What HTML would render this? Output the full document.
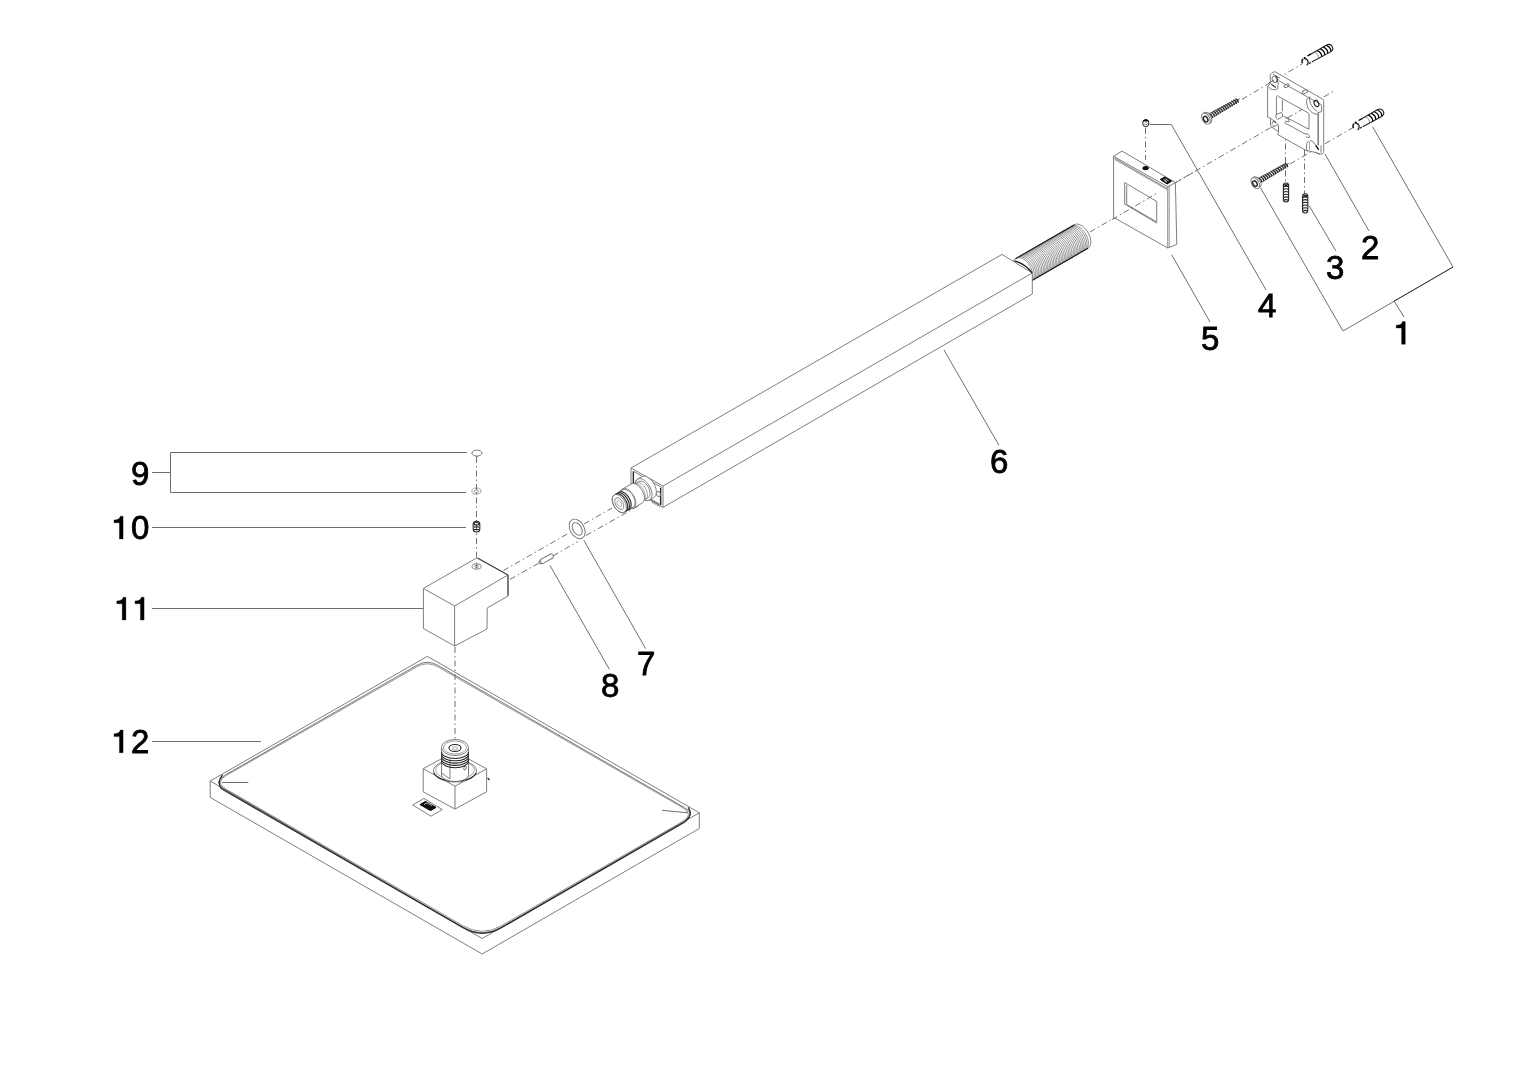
<!DOCTYPE html>
<html><head><meta charset="utf-8"><style>
html,body{margin:0;padding:0;background:#fff;}
svg{display:block;will-change:transform;}
text{opacity:0.999;}
text{font-family:"Liberation Sans",sans-serif;font-size:33px;fill:#000;stroke:#000;stroke-width:0.8px;}
.g1{fill:#000;stroke:#000;stroke-width:0.3;}
.l{fill:none;stroke:#6e6e6e;stroke-width:1;}
.p{fill:none;stroke:#777;stroke-width:0.95;}
.pw{fill:#fff;stroke:#777;stroke-width:0.95;}
.pd{fill:none;stroke:#222;stroke-width:1.1;}
.pk{fill:#111;stroke:#000;stroke-width:1;}
.sh1{fill:none;stroke:#555;stroke-width:0.8;}
.sh2{fill:none;stroke:#666;stroke-width:0.7;}
.sh3{fill:none;stroke:#2a2a2a;stroke-width:1.3;}
.wl{fill:none;stroke:#fff;stroke-width:0.7;}
.pg{fill:none;stroke:#777;stroke-width:1.4;}
.th{fill:none;stroke:#3a3a3a;stroke-width:0.55;}
.t{fill:none;stroke:#666;stroke-width:0.6;}
.dd{fill:none;stroke:#707070;stroke-width:1;stroke-dasharray:6 3 1.5 3;}
</style></head><body>
<svg width="1527" height="1080" viewBox="0 0 1527 1080">
<text x="1361" y="259">2</text>
<text x="1326" y="279">3</text>
<text x="1258" y="317">4</text>
<text x="1201" y="350">5</text>
<text x="990" y="473">6</text>
<text x="637" y="675">7</text>
<text x="601" y="697">8</text>
<text x="131" y="485">9</text>
<text x="131" y="539">0</text>
<text x="131" y="752.5">2</text>
<path class="g1" transform="translate(1396.2,344.3)" d="M5.4,0 H9.1 V-22.8 H6.3 C5.8,-20.2 3.8,-19.3 0,-19.1 V-16.2 H5.4 Z"/>
<path class="g1" transform="translate(114,539)" d="M5.4,0 H9.1 V-22.8 H6.3 C5.8,-20.2 3.8,-19.3 0,-19.1 V-16.2 H5.4 Z"/>
<path class="g1" transform="translate(116.8,620)" d="M5.4,0 H9.1 V-22.8 H6.3 C5.8,-20.2 3.8,-19.3 0,-19.1 V-16.2 H5.4 Z"/>
<path class="g1" transform="translate(135,620)" d="M5.4,0 H9.1 V-22.8 H6.3 C5.8,-20.2 3.8,-19.3 0,-19.1 V-16.2 H5.4 Z"/>
<path class="g1" transform="translate(114,752.8)" d="M5.4,0 H9.1 V-22.8 H6.3 C5.8,-20.2 3.8,-19.3 0,-19.1 V-16.2 H5.4 Z"/>
<path class="l" d="M1260.6,188 L1343,331 L1453,267 L1372.6,126.7" />
<path class="l" d="M1394,301 L1404,317"/>
<path d="M1394,301.2 L1453,267" style="fill:none;stroke:#333;stroke-width:0.9"/>
<path class="l" d="M1325,154 L1369,231"/>
<path class="l" d="M1309,205.5 L1335.8,250.8"/>
<path class="l" d="M1149.7,124.5 L1171.3,124.5 L1266,290" />
<path class="l" d="M1171.7,254.8 L1210,322"/>
<path class="l" d="M944,350 L998.9,445.2"/>
<path class="l" d="M583.8,540.3 L645.6,648.6"/>
<path class="l" d="M550,565.5 L609.5,669.5"/>
<path class="l" d="M467,452.5 L170.5,452.5 L170.5,492.5 L466,492.5" />
<path class="l" d="M152,472.5 L170.5,472.5"/>
<path class="l" d="M152,527.5 L466,527.5"/>
<path class="l" d="M152,608.5 L423.4,608.5"/>
<path class="l" d="M152,741.5 L261,741.5"/>
<path class="dd" d="M476.5,457 L476.5,558"/>
<path class="dd" d="M503.3,570.6 L569,533"/>
<path class="dd" d="M584,524 L612,508"/>
<path class="dd" d="M510,579.4 L539,563"/>
<path class="dd" d="M553,556 L578,541.5"/>
<path class="dd" d="M586,535.5 L640,505"/>
<path class="dd" d="M1090,232 L1334,91"/>
<path class="dd" d="M1242,99.4 L1302,64"/>
<path class="dd" d="M1290,164 L1354,127"/>
<path class="dd" d="M1285.5,130 L1285.5,183"/>
<path class="dd" d="M1304.5,150 L1304.5,194"/>
<path class="dd" d="M1145.5,128 L1145.5,160"/>
<path class="pw" d="M423.4,588.4 L477,557.8 L508,575 L508,596 L487.2,608 L487,629 L454.6,646 L423.4,628.5 Z" />
<path class="p" d="M423.4,588.4 L454.6,606 L508,575" />
<path d="M477.5,558 L508,575 L508,595.5" style="fill:none;stroke:#444;stroke-width:1.1"/>
<path class="p" d="M454.6,606 L454.6,646"/>
<ellipse class="p" cx="476.6" cy="566.5" rx="4.6" ry="2.6"/>
<ellipse class="p" cx="476.6" cy="566.3" rx="1.8" ry="1.1"/>
<path class="t" d="M476.5,562 L476.5,569"/>
<ellipse class="p" cx="476.9" cy="453.1" rx="5" ry="3"/>
<path class="p" d="M475.6,456 Q476.9,458.5 478.2,456"/>
<ellipse class="t" cx="476.4" cy="491" rx="4.5" ry="3"/>
<ellipse class="t" cx="476.4" cy="491.3" rx="2.2" ry="1.3"/>
<rect class="pd" x="473.2" y="521.2" width="6.6" height="10.8" rx="3"/>
<ellipse class="pd" cx="476.5" cy="523.8" rx="2.4" ry="1.3"/>
<path class="pd" d="M474,527 L479,527"/>
<path class="pd" d="M474,529.5 L479,529.5"/>
<g transform="translate(539.4,562.8) rotate(-29)"><path class="pw" d="M0,-1 L2.5,-2.3 L14,-2.3 A1.5,2.3 0 0,1 14,2.3 L2.5,2.3 L0,1 Z"/><path class="p" d="M2.5,-2.3 A1,2.3 0 0,0 2.5,2.3"/></g>
<ellipse class="p" cx="577.2" cy="528.9" rx="10.5" ry="7" transform="rotate(60 577.2 528.9)"/>
<ellipse class="p" cx="577.2" cy="528.9" rx="6.8" ry="4.3" transform="rotate(60 577.2 528.9)"/>
<path class="pw" d="M1087.96,248.28 L1088.79,247.66 L1089.49,246.85 L1090.06,245.87 L1090.47,244.72 L1090.72,243.44 L1090.8,242.03 L1090.72,240.54 L1090.48,238.97 L1090.08,237.36 L1089.52,235.73 L1088.83,234.12 L1088,232.55 L1087.05,231.05 L1086,229.64 L1084.87,228.34 L1083.68,227.19 L1082.44,226.2 L1081.19,225.38 L1079.93,224.75 L1078.69,224.33 L1077.49,224.11 L1076.36,224.1 L1075.31,224.31 L1074.36,224.72 L1015.47,258.72 L1014.63,259.34 L1013.93,260.15 L1013.37,261.13 L1012.96,262.28 L1012.71,263.56 L1012.62,264.97 L1012.7,266.46 L1012.94,268.03 L1013.35,269.64 L1013.9,271.27 L1014.6,272.88 L1015.43,274.45 L1016.37,275.95 L1017.42,277.36 L1018.55,278.66 L1019.74,279.81 L1020.98,280.8 L1022.24,281.62 L1023.5,282.25 L1024.74,282.67 L1025.93,282.89 L1027.07,282.9 L1028.12,282.69 L1029.07,282.28 Z" />
<path class="th" d="M1029.93,281.78 L1031.14,280.78 L1032.03,279.37 L1032.59,277.6 L1032.78,275.53 L1032.6,273.26 L1032.06,270.86 L1031.17,268.42 L1029.98,266.05 L1028.52,263.83 L1026.85,261.84 L1025.04,260.17 L1023.16,258.88 L1021.28,258.01 L1019.47,257.61 L1017.8,257.68 L1016.33,258.22" />
<path class="th" d="M1031.44,280.91 L1032.64,279.91 L1033.54,278.5 L1034.09,276.73 L1034.28,274.67 L1034.1,272.39 L1033.56,269.99 L1032.67,267.56 L1031.48,265.18 L1030.02,262.96 L1028.36,260.98 L1026.55,259.3 L1024.67,258.01 L1022.78,257.14 L1020.97,256.74 L1019.3,256.81 L1017.84,257.35" />
<path class="th" d="M1032.94,280.04 L1034.15,279.04 L1035.04,277.63 L1035.6,275.86 L1035.79,273.8 L1035.61,271.52 L1035.07,269.12 L1034.18,266.69 L1032.98,264.31 L1031.53,262.09 L1029.86,260.11 L1028.05,258.44 L1026.17,257.14 L1024.29,256.28 L1022.48,255.87 L1020.81,255.94 L1019.34,256.49" />
<path class="th" d="M1034.45,279.17 L1035.65,278.18 L1036.55,276.76 L1037.1,274.99 L1037.29,272.93 L1037.11,270.65 L1036.57,268.25 L1035.68,265.82 L1034.49,263.44 L1033.03,261.22 L1031.36,259.24 L1029.56,257.57 L1027.68,256.27 L1025.79,255.41 L1023.98,255 L1022.31,255.07 L1020.85,255.62" />
<path class="th" d="M1035.95,278.3 L1037.15,277.31 L1038.05,275.9 L1038.61,274.12 L1038.8,272.06 L1038.62,269.79 L1038.07,267.38 L1037.19,264.95 L1035.99,262.58 L1034.53,260.35 L1032.87,258.37 L1031.06,256.7 L1029.18,255.41 L1027.3,254.54 L1025.49,254.13 L1023.82,254.2 L1022.35,254.75" />
<path class="th" d="M1037.45,277.44 L1038.66,276.44 L1039.55,275.03 L1040.11,273.26 L1040.3,271.19 L1040.12,268.92 L1039.58,266.52 L1038.69,264.08 L1037.5,261.71 L1036.04,259.49 L1034.37,257.5 L1032.57,255.83 L1030.68,254.54 L1028.8,253.67 L1026.99,253.27 L1025.32,253.34 L1023.85,253.88" />
<path class="th" d="M1038.96,276.57 L1040.16,275.57 L1041.06,274.16 L1041.61,272.39 L1041.8,270.32 L1041.62,268.05 L1041.08,265.65 L1040.2,263.21 L1039,260.84 L1037.54,258.62 L1035.88,256.63 L1034.07,254.96 L1032.19,253.67 L1030.31,252.8 L1028.49,252.4 L1026.82,252.47 L1025.36,253.01" />
<path class="th" d="M1040.46,275.7 L1041.67,274.7 L1042.56,273.29 L1043.12,271.52 L1043.31,269.46 L1043.13,267.18 L1042.59,264.78 L1041.7,262.34 L1040.5,259.97 L1039.05,257.75 L1037.38,255.76 L1035.57,254.09 L1033.69,252.8 L1031.81,251.93 L1030,251.53 L1028.33,251.6 L1026.86,252.14" />
<path class="th" d="M1041.97,274.83 L1043.17,273.83 L1044.07,272.42 L1044.62,270.65 L1044.81,268.59 L1044.63,266.31 L1044.09,263.91 L1043.2,261.48 L1042.01,259.1 L1040.55,256.88 L1038.89,254.9 L1037.08,253.23 L1035.2,251.93 L1033.31,251.07 L1031.5,250.66 L1029.83,250.73 L1028.37,251.28" />
<path class="th" d="M1043.47,273.96 L1044.67,272.96 L1045.57,271.55 L1046.13,269.78 L1046.32,267.72 L1046.14,265.44 L1045.59,263.04 L1044.71,260.61 L1043.51,258.23 L1042.05,256.01 L1040.39,254.03 L1038.58,252.36 L1036.7,251.06 L1034.82,250.2 L1033.01,249.79 L1031.34,249.86 L1029.87,250.41" />
<path class="th" d="M1044.98,273.09 L1046.18,272.1 L1047.08,270.69 L1047.63,268.91 L1047.82,266.85 L1047.64,264.57 L1047.1,262.17 L1046.21,259.74 L1045.02,257.37 L1043.56,255.14 L1041.89,253.16 L1040.09,251.49 L1038.2,250.19 L1036.32,249.33 L1034.51,248.92 L1032.84,248.99 L1031.38,249.54" />
<path class="th" d="M1046.48,272.22 L1047.68,271.23 L1048.58,269.82 L1049.13,268.05 L1049.33,265.98 L1049.15,263.71 L1048.6,261.31 L1047.72,258.87 L1046.52,256.5 L1045.06,254.28 L1043.4,252.29 L1041.59,250.62 L1039.71,249.33 L1037.83,248.46 L1036.01,248.05 L1034.34,248.13 L1032.88,248.67" />
<path class="th" d="M1047.98,271.36 L1049.19,270.36 L1050.08,268.95 L1050.64,267.18 L1050.83,265.11 L1050.65,262.84 L1050.11,260.44 L1049.22,258 L1048.02,255.63 L1046.57,253.41 L1044.9,251.42 L1043.09,249.75 L1041.21,248.46 L1039.33,247.59 L1037.52,247.19 L1035.85,247.26 L1034.38,247.8" />
<path class="th" d="M1049.49,270.49 L1050.69,269.49 L1051.59,268.08 L1052.14,266.31 L1052.33,264.25 L1052.15,261.97 L1051.61,259.57 L1050.72,257.13 L1049.53,254.76 L1048.07,252.54 L1046.41,250.55 L1044.6,248.88 L1042.72,247.59 L1040.83,246.72 L1039.02,246.32 L1037.35,246.39 L1035.89,246.93" />
<path class="th" d="M1050.99,269.62 L1052.2,268.62 L1053.09,267.21 L1053.65,265.44 L1053.84,263.38 L1053.66,261.1 L1053.11,258.7 L1052.23,256.27 L1051.03,253.89 L1049.57,251.67 L1047.91,249.69 L1046.1,248.01 L1044.22,246.72 L1042.34,245.85 L1040.53,245.45 L1038.86,245.52 L1037.39,246.06" />
<path class="th" d="M1052.5,268.75 L1053.7,267.75 L1054.6,266.34 L1055.15,264.57 L1055.34,262.51 L1055.16,260.23 L1054.62,257.83 L1053.73,255.4 L1052.54,253.02 L1051.08,250.8 L1049.41,248.82 L1047.61,247.15 L1045.72,245.85 L1043.84,244.99 L1042.03,244.58 L1040.36,244.65 L1038.9,245.2" />
<path class="th" d="M1054,267.88 L1055.2,266.89 L1056.1,265.47 L1056.65,263.7 L1056.85,261.64 L1056.67,259.36 L1056.12,256.96 L1055.24,254.53 L1054.04,252.16 L1052.58,249.93 L1050.92,247.95 L1049.11,246.28 L1047.23,244.98 L1045.35,244.12 L1043.54,243.71 L1041.87,243.78 L1040.4,244.33" />
<path class="th" d="M1055.5,267.01 L1056.71,266.02 L1057.6,264.61 L1058.16,262.84 L1058.35,260.77 L1058.17,258.5 L1057.63,256.09 L1056.74,253.66 L1055.55,251.29 L1054.09,249.07 L1052.42,247.08 L1050.61,245.41 L1048.73,244.12 L1046.85,243.25 L1045.04,242.84 L1043.37,242.91 L1041.9,243.46" />
<path class="th" d="M1057.01,266.15 L1058.21,265.15 L1059.11,263.74 L1059.66,261.97 L1059.85,259.9 L1059.67,257.63 L1059.13,255.23 L1058.24,252.79 L1057.05,250.42 L1055.59,248.2 L1053.93,246.21 L1052.12,244.54 L1050.24,243.25 L1048.35,242.38 L1046.54,241.98 L1044.87,242.05 L1043.41,242.59" />
<path class="th" d="M1058.51,265.28 L1059.72,264.28 L1060.61,262.87 L1061.17,261.1 L1061.36,259.03 L1061.18,256.76 L1060.63,254.36 L1059.75,251.92 L1058.55,249.55 L1057.1,247.33 L1055.43,245.34 L1053.62,243.67 L1051.74,242.38 L1049.86,241.51 L1048.05,241.11 L1046.38,241.18 L1044.91,241.72" />
<path class="th" d="M1060.02,264.41 L1061.22,263.41 L1062.12,262 L1062.67,260.23 L1062.86,258.17 L1062.68,255.89 L1062.14,253.49 L1061.25,251.06 L1060.06,248.68 L1058.6,246.46 L1056.93,244.48 L1055.13,242.8 L1053.25,241.51 L1051.36,240.64 L1049.55,240.24 L1047.88,240.31 L1046.42,240.85" />
<path class="th" d="M1061.52,263.54 L1062.72,262.54 L1063.62,261.13 L1064.18,259.36 L1064.37,257.3 L1064.19,255.02 L1063.64,252.62 L1062.76,250.19 L1061.56,247.81 L1060.1,245.59 L1058.44,243.61 L1056.63,241.94 L1054.75,240.64 L1052.87,239.78 L1051.06,239.37 L1049.39,239.44 L1047.92,239.99" />
<path class="th" d="M1063.02,262.67 L1064.23,261.68 L1065.12,260.26 L1065.68,258.49 L1065.87,256.43 L1065.69,254.15 L1065.15,251.75 L1064.26,249.32 L1063.07,246.94 L1061.61,244.72 L1059.94,242.74 L1058.13,241.07 L1056.25,239.77 L1054.37,238.91 L1052.56,238.5 L1050.89,238.57 L1049.42,239.12" />
<path class="th" d="M1064.53,261.8 L1065.73,260.81 L1066.63,259.4 L1067.18,257.62 L1067.37,255.56 L1067.19,253.29 L1066.65,250.88 L1065.76,248.45 L1064.57,246.08 L1063.11,243.85 L1061.45,241.87 L1059.64,240.2 L1057.76,238.91 L1055.88,238.04 L1054.06,237.63 L1052.39,237.7 L1050.93,238.25" />
<path class="th" d="M1066.03,260.94 L1067.24,259.94 L1068.13,258.53 L1068.69,256.76 L1068.88,254.69 L1068.7,252.42 L1068.16,250.02 L1067.27,247.58 L1066.07,245.21 L1064.62,242.99 L1062.95,241 L1061.14,239.33 L1059.26,238.04 L1057.38,237.17 L1055.57,236.77 L1053.9,236.84 L1052.43,237.38" />
<path class="th" d="M1067.54,260.07 L1068.74,259.07 L1069.64,257.66 L1070.19,255.89 L1070.38,253.82 L1070.2,251.55 L1069.66,249.15 L1068.77,246.71 L1067.58,244.34 L1066.12,242.12 L1064.46,240.13 L1062.65,238.46 L1060.77,237.17 L1058.88,236.3 L1057.07,235.9 L1055.4,235.97 L1053.94,236.51" />
<path class="th" d="M1069.04,259.2 L1070.24,258.2 L1071.14,256.79 L1071.7,255.02 L1071.89,252.96 L1071.71,250.68 L1071.16,248.28 L1070.28,245.84 L1069.08,243.47 L1067.62,241.25 L1065.96,239.26 L1064.15,237.59 L1062.27,236.3 L1060.39,235.43 L1058.58,235.03 L1056.91,235.1 L1055.44,235.64" />
<path class="th" d="M1070.54,258.33 L1071.75,257.33 L1072.65,255.92 L1073.2,254.15 L1073.39,252.09 L1073.21,249.81 L1072.67,247.41 L1071.78,244.98 L1070.59,242.6 L1069.13,240.38 L1067.46,238.4 L1065.66,236.73 L1063.77,235.43 L1061.89,234.57 L1060.08,234.16 L1058.41,234.23 L1056.94,234.78" />
<path class="th" d="M1072.05,257.46 L1073.25,256.46 L1074.15,255.05 L1074.7,253.28 L1074.89,251.22 L1074.72,248.94 L1074.17,246.54 L1073.29,244.11 L1072.09,241.73 L1070.63,239.51 L1068.97,237.53 L1067.16,235.86 L1065.28,234.56 L1063.4,233.7 L1061.58,233.29 L1059.91,233.36 L1058.45,233.91" />
<path class="th" d="M1073.55,256.59 L1074.76,255.6 L1075.65,254.19 L1076.21,252.41 L1076.4,250.35 L1076.22,248.07 L1075.68,245.67 L1074.79,243.24 L1073.59,240.87 L1072.14,238.64 L1070.47,236.66 L1068.66,234.99 L1066.78,233.69 L1064.9,232.83 L1063.09,232.42 L1061.42,232.49 L1059.95,233.04" />
<path class="th" d="M1075.06,255.72 L1076.26,254.73 L1077.16,253.32 L1077.71,251.55 L1077.9,249.48 L1077.72,247.21 L1077.18,244.81 L1076.29,242.37 L1075.1,240 L1073.64,237.78 L1071.98,235.79 L1070.17,234.12 L1068.29,232.83 L1066.4,231.96 L1064.59,231.55 L1062.92,231.63 L1061.46,232.17" />
<path class="th" d="M1076.56,254.86 L1077.77,253.86 L1078.66,252.45 L1079.22,250.68 L1079.41,248.61 L1079.23,246.34 L1078.68,243.94 L1077.8,241.5 L1076.6,239.13 L1075.14,236.91 L1073.48,234.92 L1071.67,233.25 L1069.79,231.96 L1067.91,231.09 L1066.1,230.69 L1064.43,230.76 L1062.96,231.3" />
<path class="th" d="M1078.07,253.99 L1079.27,252.99 L1080.17,251.58 L1080.72,249.81 L1080.91,247.75 L1080.73,245.47 L1080.19,243.07 L1079.3,240.63 L1078.11,238.26 L1076.65,236.04 L1074.98,234.05 L1073.18,232.38 L1071.29,231.09 L1069.41,230.22 L1067.6,229.82 L1065.93,229.89 L1064.47,230.43" />
<path class="th" d="M1079.57,253.12 L1080.77,252.12 L1081.67,250.71 L1082.22,248.94 L1082.42,246.88 L1082.24,244.6 L1081.69,242.2 L1080.81,239.77 L1079.61,237.39 L1078.15,235.17 L1076.49,233.19 L1074.68,231.51 L1072.8,230.22 L1070.92,229.35 L1069.11,228.95 L1067.43,229.02 L1065.97,229.56" />
<path class="th" d="M1081.07,252.25 L1082.28,251.25 L1083.17,249.84 L1083.73,248.07 L1083.92,246.01 L1083.74,243.73 L1083.2,241.33 L1082.31,238.9 L1081.11,236.52 L1079.66,234.3 L1077.99,232.32 L1076.18,230.65 L1074.3,229.35 L1072.42,228.49 L1070.61,228.08 L1068.94,228.15 L1067.47,228.7" />
<path class="th" d="M1082.58,251.38 L1083.78,250.39 L1084.68,248.97 L1085.23,247.2 L1085.42,245.14 L1085.24,242.86 L1084.7,240.46 L1083.81,238.03 L1082.62,235.66 L1081.16,233.43 L1079.5,231.45 L1077.69,229.78 L1075.81,228.48 L1073.92,227.62 L1072.11,227.21 L1070.44,227.28 L1068.98,227.83" />
<path class="th" d="M1084.08,250.51 L1085.29,249.52 L1086.18,248.11 L1086.74,246.34 L1086.93,244.27 L1086.75,242 L1086.2,239.59 L1085.32,237.16 L1084.12,234.79 L1082.67,232.57 L1081,230.58 L1079.19,228.91 L1077.31,227.62 L1075.43,226.75 L1073.62,226.34 L1071.95,226.41 L1070.48,226.96" />
<path class="th" d="M1085.59,249.65 L1086.79,248.65 L1087.69,247.24 L1088.24,245.47 L1088.43,243.4 L1088.25,241.13 L1087.71,238.73 L1086.82,236.29 L1085.63,233.92 L1084.17,231.7 L1082.5,229.71 L1080.7,228.04 L1078.82,226.75 L1076.93,225.88 L1075.12,225.48 L1073.45,225.55 L1071.99,226.09" />
<path class="pd" d="M1029.07,282.28 L1087.96,248.28"/>
<path class="pd" d="M1015.47,258.72 L1074.36,224.72"/>
<path class="pw" d="M631,468 L1002,254.4 L1032.3,273 L1032.3,294 L663,507.4 L631,489 Z" />
<path class="p" d="M631,468 L663,486 L1032.3,273" />
<path class="p" d="M663,486 L663,507.4"/>
<path class="pd" d="M1014.5,260.8 Q1026,264.5 1032,272.8" style="stroke-width:1.4"/>
<path class="p" d="M633,471 L661,487 L661,505 L633,489 Z" />
<path class="pd" d="M633.5,472 L633.5,489"/>
<path class="pd" d="M660.5,488 L660.5,505"/>
<ellipse class="p" cx="658.5" cy="494" rx="2" ry="2.6" transform="rotate(-30 658.5 494)"/>
<path class="t" d="M651,499 L653,503.5"/>
<path class="t" d="M652.6,499.9 L654.6,504.4"/>
<path class="t" d="M654.2,500.8 L656.2,505.3"/>
<path class="t" d="M655.8,501.7 L657.8,506.2"/>
<path class="t" d="M657.4,502.6 L659.4,507.1"/>
<path class="pw" d="M637.54,479.21 L636.8,479.75 L636.19,480.46 L635.7,481.32 L635.34,482.33 L635.13,483.46 L635.05,484.7 L635.13,486.02 L635.34,487.4 L635.7,488.82 L636.19,490.25 L636.81,491.68 L637.54,493.06 L638.37,494.39 L639.3,495.63 L640.29,496.78 L641.34,497.79 L642.43,498.67 L643.54,499.4 L644.65,499.95 L645.73,500.33 L646.78,500.53 L647.78,500.53 L648.7,500.35 L649.54,499.99 L653.87,497.49 L654.6,496.95 L655.21,496.24 L655.7,495.38 L656.06,494.37 L656.28,493.24 L656.35,492 L656.28,490.68 L656.06,489.3 L655.7,487.88 L655.21,486.45 L654.59,485.02 L653.86,483.64 L653.03,482.31 L652.1,481.07 L651.11,479.92 L650.06,478.91 L648.97,478.03 L647.86,477.3 L646.76,476.75 L645.67,476.37 L644.62,476.17 L643.62,476.17 L642.7,476.35 L641.87,476.71 Z" />
<path class="p" d="M637.54,479.21 L636.59,479.97 L635.85,481.02 L635.34,482.33 L635.09,483.86 L635.09,485.57 L635.34,487.4 L635.85,489.3 L636.59,491.2 L637.54,493.06 L638.67,494.81 L639.95,496.41 L641.34,497.79 L642.8,498.93 L644.28,499.79 L645.73,500.33 L647.12,500.55 L648.4,500.44 L649.54,499.99 L650.49,499.23 L651.22,498.18 L651.73,496.87 L651.99,495.34 L651.99,493.63 L651.73,491.8 L651.22,489.9 L650.48,488 L649.53,486.14 L648.4,484.39 L647.12,482.79 L645.73,481.41 L644.27,480.27 L642.79,479.41 L641.34,478.87 L639.95,478.65 L638.67,478.76 L637.54,479.21 Z" />
<path class="pw" d="M632.01,485.63 L631.45,486.05 L630.97,486.59 L630.6,487.25 L630.33,488.03 L630.16,488.89 L630.1,489.84 L630.16,490.86 L630.33,491.92 L630.6,493 L630.98,494.1 L631.45,495.19 L632.01,496.25 L632.65,497.27 L633.36,498.23 L634.12,499.1 L634.93,499.88 L635.76,500.56 L636.61,501.11 L637.46,501.54 L638.29,501.83 L639.1,501.98 L639.86,501.98 L640.57,501.85 L641.21,501.57 L648.14,497.57 L648.7,497.15 L649.17,496.61 L649.55,495.95 L649.82,495.17 L649.98,494.31 L650.04,493.36 L649.98,492.34 L649.82,491.28 L649.54,490.2 L649.17,489.1 L648.69,488.01 L648.13,486.95 L647.49,485.93 L646.79,484.97 L646.02,484.1 L645.22,483.32 L644.38,482.64 L643.53,482.09 L642.69,481.66 L641.85,481.37 L641.05,481.22 L640.28,481.22 L639.58,481.35 L638.94,481.63 Z" />
<path class="p" d="M632.01,485.63 L631.28,486.21 L630.71,487.02 L630.33,488.03 L630.13,489.2 L630.13,490.51 L630.33,491.92 L630.71,493.37 L631.28,494.83 L632.01,496.25 L632.88,497.6 L633.86,498.82 L634.93,499.88 L636.04,500.75 L637.18,501.41 L638.29,501.83 L639.36,501.99 L640.34,501.91 L641.21,501.57 L641.94,500.99 L642.5,500.18 L642.89,499.17 L643.09,498 L643.09,496.69 L642.89,495.28 L642.5,493.83 L641.93,492.37 L641.21,490.95 L640.34,489.6 L639.35,488.38 L638.29,487.32 L637.17,486.45 L636.04,485.79 L634.92,485.37 L633.86,485.21 L632.88,485.29 L632.01,485.63 Z" />
<path class="t" d="M645.56,499.11 L646.38,498.44 L646.98,497.48 L647.35,496.28 L647.48,494.88 L647.35,493.33 L646.98,491.7 L646.37,490.05 L645.56,488.43 L644.57,486.92 L643.44,485.57 L642.21,484.43 L640.94,483.55 L639.66,482.96 L638.43,482.68 L637.3,482.72 L636.31,483.09" />
<path class="t" d="M643.4,500.36 L644.21,499.69 L644.81,498.73 L645.19,497.53 L645.31,496.13 L645.19,494.58 L644.81,492.95 L644.21,491.3 L643.4,489.68 L642.4,488.17 L641.27,486.82 L640.05,485.68 L638.77,484.8 L637.5,484.21 L636.27,483.93 L635.14,483.97 L634.15,484.34" />
<path class="pw" d="M622.45,489.07 L621.78,489.57 L621.21,490.22 L620.76,491.01 L620.44,491.94 L620.24,492.97 L620.17,494.11 L620.24,495.32 L620.44,496.59 L620.77,497.89 L621.22,499.2 L621.78,500.5 L622.45,501.77 L623.22,502.99 L624.06,504.13 L624.97,505.18 L625.94,506.11 L626.94,506.92 L627.95,507.58 L628.97,508.09 L629.96,508.44 L630.93,508.62 L631.84,508.62 L632.68,508.46 L633.45,508.13 L642.11,503.13 L642.78,502.63 L643.34,501.98 L643.79,501.19 L644.12,500.26 L644.32,499.23 L644.38,498.09 L644.32,496.88 L644.12,495.61 L643.79,494.31 L643.34,493 L642.78,491.7 L642.1,490.43 L641.34,489.21 L640.49,488.07 L639.58,487.02 L638.62,486.09 L637.62,485.28 L636.61,484.62 L635.59,484.11 L634.59,483.76 L633.63,483.58 L632.72,483.58 L631.87,483.74 L631.11,484.07 Z" />
<path class="p" d="M622.45,489.07 L621.58,489.77 L620.9,490.73 L620.44,491.94 L620.2,493.34 L620.2,494.91 L620.44,496.59 L620.9,498.32 L621.58,500.07 L622.45,501.77 L623.49,503.38 L624.66,504.84 L625.94,506.11 L627.27,507.15 L628.63,507.94 L629.96,508.44 L631.24,508.64 L632.41,508.53 L633.45,508.13 L634.32,507.43 L635,506.47 L635.46,505.26 L635.69,503.86 L635.69,502.29 L635.46,500.61 L634.99,498.88 L634.32,497.13 L633.44,495.43 L632.41,493.82 L631.23,492.36 L629.96,491.09 L628.62,490.05 L627.27,489.26 L625.93,488.76 L624.66,488.56 L623.49,488.67 L622.45,489.07 Z" />
<path class="pw" d="M614.29,494.94 L613.68,495.39 L613.17,495.98 L612.76,496.7 L612.46,497.54 L612.28,498.49 L612.22,499.52 L612.28,500.62 L612.46,501.77 L612.76,502.95 L613.17,504.15 L613.68,505.33 L614.29,506.49 L614.99,507.59 L615.76,508.63 L616.58,509.58 L617.46,510.43 L618.37,511.16 L619.29,511.76 L620.21,512.23 L621.12,512.54 L622,512.7 L622.82,512.71 L623.59,512.56 L624.29,512.26 L632.95,507.26 L633.56,506.81 L634.07,506.22 L634.48,505.5 L634.78,504.66 L634.96,503.71 L635.02,502.68 L634.96,501.58 L634.78,500.43 L634.48,499.25 L634.07,498.05 L633.55,496.87 L632.94,495.72 L632.25,494.61 L631.48,493.57 L630.65,492.62 L629.78,491.77 L628.87,491.04 L627.95,490.44 L627.02,489.97 L626.12,489.66 L625.24,489.5 L624.41,489.49 L623.64,489.64 L622.95,489.94 Z" />
<path class="p" d="M614.29,494.94 L613.5,495.57 L612.88,496.45 L612.46,497.54 L612.25,498.82 L612.25,500.24 L612.46,501.77 L612.88,503.35 L613.5,504.94 L614.29,506.49 L615.24,507.94 L616.3,509.27 L617.46,510.43 L618.67,511.38 L619.91,512.09 L621.12,512.54 L622.28,512.72 L623.34,512.63 L624.29,512.26 L625.08,511.63 L625.7,510.75 L626.12,509.66 L626.33,508.38 L626.33,506.96 L626.12,505.43 L625.69,503.85 L625.08,502.26 L624.28,500.72 L623.34,499.26 L622.27,497.93 L621.12,496.77 L619.9,495.82 L618.67,495.11 L617.46,494.66 L616.3,494.48 L615.23,494.57 L614.29,494.94 Z" />
<path class="pd" d="M629.08,509.55 L629.96,508.82 L630.62,507.78 L631.02,506.48 L631.16,504.95 L631.02,503.27 L630.61,501.5 L629.96,499.7 L629.07,497.95 L628,496.31 L626.77,494.84 L625.43,493.6 L624.05,492.65 L622.66,492 L621.33,491.7 L620.1,491.75 L619.03,492.15" />
<path class="pd" d="M627.34,510.55 L628.23,509.82 L628.88,508.78 L629.29,507.48 L629.42,505.95 L629.29,504.27 L628.88,502.5 L628.22,500.7 L627.34,498.95 L626.26,497.31 L625.04,495.84 L623.7,494.6 L622.32,493.65 L620.93,493 L619.6,492.7 L618.37,492.75 L617.29,493.15" />
<path class="pd" d="M625.61,511.55 L626.5,510.82 L627.15,509.78 L627.56,508.48 L627.69,506.95 L627.55,505.27 L627.15,503.5 L626.49,501.7 L625.61,499.95 L624.53,498.31 L623.3,496.84 L621.97,495.6 L620.58,494.65 L619.2,494 L617.87,493.7 L616.64,493.75 L615.56,494.15" />
<path class="p" d="M616.14,498.14 L615.54,498.65 L615.11,499.37 L614.86,500.27 L614.8,501.32 L614.94,502.47 L615.27,503.67 L615.77,504.87 L616.43,506.01 L617.21,507.05 L618.09,507.93 L619.01,508.63 L619.95,509.1 L620.86,509.34 L621.7,509.32 L622.44,509.06 L623.04,508.55 L623.47,507.83 L623.72,506.93 L623.78,505.88 L623.64,504.73 L623.31,503.53 L622.8,502.33 L622.15,501.19 L621.36,500.15 L620.49,499.27 L619.56,498.57 L618.62,498.1 L617.71,497.86 L616.87,497.88 L616.14,498.14 Z" />
<path class="t" d="M617.69,500.83 L617.26,501.26 L617.03,501.92 L617.02,502.74 L617.23,503.65 L617.64,504.55 L618.22,505.36 L618.9,506 L619.62,506.4 L620.3,506.53 L620.89,506.37 L621.32,505.94 L621.55,505.28 L621.56,504.46 L621.35,503.55 L620.93,502.65 L620.36,501.84 L619.68,501.2 L618.96,500.8 L618.27,500.67 L617.69,500.83 Z" />
<path class="pw" d="M1113.6,156.3 L1122,151 L1175.4,182.6 L1176.8,244.4 L1167.8,248 L1113.6,217.4 Z" />
<path class="p" d="M1113.6,156.3 L1167.8,186.8 L1175.4,182.6" />
<path class="p" d="M1167.8,186.8 L1167.8,248"/>
<path class="t" d="M1169.3,186 L1169.3,247.2"/>
<path class="p" d="M1114.5,158.2 L1167,188.5"/>
<path class="t" d="M1114.5,159.4 L1167,189.7"/>
<path class="p" d="M1124.7,182.6 L1156.7,201.4 L1156.7,223 L1124.7,204 Z" />
<path class="p" d="M1126.7,185 L1126.7,204.5 L1156,221.5" />
<path class="dd" d="M1112,219.5 L1156.5,193.5"/>
<path class="dd" d="M1176,182.4 L1199.7,168.8"/>
<ellipse class="pk" cx="1145.6" cy="168.2" rx="2.8" ry="1.6"/>
<path class="pk" d="M1160.4,179.4 L1164.9,177 L1171.6,181.1 L1167.1,184 Z" />
<path class="wl" d="M1163.5,179.5 L1167,181.6 M1165,178.6 L1168.6,180.7 M1164.5,181 L1166.5,182.2"/>
<ellipse class="pw" cx="1145.8" cy="123.1" rx="3.1" ry="3.7" style="stroke:#222;stroke-width:1"/>
<path class="pk" d="M1143.3,121 Q1145.8,118.6 1148.3,121 Z" style="stroke-width:0.8"/>
<path class="p" d="M1143.8,123.5 Q1145.8,126.5 1147.8,123.5 M1145.8,121 L1145.8,123"/>
<path class="pw" d="M1274.8,71.6 L1322.4,99 Q1323.7,100 1323.7,101.6 L1323.7,152.3 Q1323.5,154 1320.9,154.3 L1315,152.3 L1306,150.4 L1277.6,134.5 L1278.5,132 L1278.5,125.3 L1275.7,122.3 L1270.5,118.2 L1267.6,117.1 L1267.6,86.4 Q1268.5,85.2 1270.3,84 L1270.3,74.5 Q1271,73 1274.8,71.6 Z"/>
<path class="p" d="M1273.1,74.1 L1280.1,78.2" />
<path class="p" d="M1279,80.8 L1320.9,104.5" />
<path class="p" d="M1320.9,104.5 L1321.6,106 L1321.6,111.6 L1318,112.7" />
<path class="pg" d="M1318.2,112.7 L1318.2,145.6"/>
<path class="p" d="M1321,145.3 L1321,152.7"/>
<path class="p" d="M1268.3,86.4 Q1270,89.5 1272.7,89.7 Q1276.5,90 1277.6,88.6 L1278.3,81.9"/>
<path class="pd" d="M1271.3,84.1 L1275.7,87.5"/>
<ellipse class="p" cx="1275" cy="79.3" rx="2.8" ry="3.2" transform="rotate(-20 1275 79.3)"/>
<path class="pd" d="M1275.5,76.3 Q1278.5,79 1276.5,82"/>
<ellipse class="p" cx="1286.5" cy="85.7" rx="2.6" ry="1.5" transform="rotate(-25 1286.5 85.7)"/>
<ellipse class="p" cx="1305" cy="91.7" rx="2.8" ry="1.6" transform="rotate(-25 1305 91.7)"/>
<path class="p" d="M1310.5,96.7 Q1306,98.5 1306.4,100.8 Q1307,106 1308,108.2 Q1310.5,111.5 1312.4,112.7 Q1315,114.3 1317.6,114.5"/>
<path class="p" d="M1309.4,97.4 Q1309.8,101.5 1310.5,103.8 Q1313,109 1317.2,111.6"/>
<ellipse class="pd" cx="1316.4" cy="103.4" rx="2.2" ry="3.3" transform="rotate(-25 1316.4 103.4)"/>
<path class="p" d="M1276.4,114.5 L1276.4,97.9 Q1276.2,95.5 1277.6,95.5 L1278.7,96.7 L1307,112.2 Q1309,113 1309,114.9 L1309,129.3 L1283.5,116"/>
<path class="p" d="M1282.4,99.8 L1282.4,111.2"/>
<path class="p" d="M1275.7,114.9 Q1276,119.3 1277.6,119.3 L1282.7,116.7 Q1282.5,112.5 1281.3,112.3 Z"/>
<path class="p" d="M1284.2,122.7 L1306.5,134.6"/>
<path class="p" d="M1306,133.4 Q1309.8,134 1309.5,137.5 Q1307.5,138 1306,136.5"/>
<path class="p" d="M1285,117.5 Q1289.5,118.5 1289.4,121.5 Q1287,122 1285,121"/>
<path class="p" d="M1270.5,118.2 L1270.5,125.3 Q1272,127.5 1273.1,128.2 L1278.3,131.6"/>
<path class="p" d="M1272.7,121.6 Q1271.5,124 1272.4,124.5"/>
<path class="p" d="M1271.3,127.5 L1277.6,124.9"/>
<path class="pd" d="M1273.5,121 L1275.7,122.5"/>
<path class="p" d="M1308.7,141.2 Q1306,143 1306.4,146.4 Q1306.5,150 1307.6,151.6"/>
<path class="p" d="M1310,140.5 Q1313,140 1315.7,145.3"/>
<path class="pk" d="M1315.7,145.3 L1318.7,149.7" style="stroke-width:1.3"/>
<path class="p" d="M1315,152.3 L1320,154.5" />
<path class="t" d="M1309.5,141.5 L1309.5,150"/>
<path class="dd" d="M1287.3,118 L1302,109.5"/>
<path class="dd" d="M1269,83 L1280,76.6"/>
<g transform="translate(1303,63) rotate(-29.5)"><path class="pw" d="M0.5,-3.3 L13,-3.6 L29.5,-3.9 Q33.5,-3.8 33.5,0 Q33.5,3.8 29.5,3.9 L13,3.6 L0.5,3.3 Z" style="stroke:none"/><path class="pd" d="M2.2,-3.5 Q-0.8,-2.8 -0.6,0.2" style="stroke-width:1.4"/><path class="pd" d="M3.2,-3.6 Q6.5,-1 4.8,2 Q4,3.5 2,3.8" style="stroke-width:1.3"/><path class="pd" d="M5,3.5 L7,3.4" style="stroke-width:1.3"/><path class="pk" d="M3,-3.7 L5,-3.8 M7.5,-3.9 L12,-3.9" style="stroke-width:1.4"/><path class="pd" d="M12,-3.9 L29.5,-4 Q33.5,-3.8 33.5,0 Q33.5,3.8 29.5,3.9 L8,3.5" style="stroke-width:1.1"/><path class="p" style="fill:none;stroke-width:0.8" d="M15,-3.8 Q18.2,0 15.8,3.8"/><path class="pk" style="fill:none;stroke-width:1.25" d="M18.5,-3.8 Q21.7,0 19.3,3.8"/><path class="pk" style="fill:none;stroke-width:1.25" d="M22,-3.8 Q25.2,0 22.8,3.8"/><path class="pk" style="fill:none;stroke-width:1.25" d="M25.5,-3.8 Q28.7,0 26.3,3.8"/><path class="pk" style="fill:none;stroke-width:1.25" d="M29,-3.8 Q32.2,0 29.8,3.8"/></g>
<g transform="translate(1354,127.6) rotate(-29.5)"><path class="pw" d="M0.5,-3.3 L13,-3.6 L29.5,-3.9 Q33.5,-3.8 33.5,0 Q33.5,3.8 29.5,3.9 L13,3.6 L0.5,3.3 Z" style="stroke:none"/><path class="pd" d="M2.2,-3.5 Q-0.8,-2.8 -0.6,0.2" style="stroke-width:1.4"/><path class="pd" d="M3.2,-3.6 Q6.5,-1 4.8,2 Q4,3.5 2,3.8" style="stroke-width:1.3"/><path class="pd" d="M5,3.5 L7,3.4" style="stroke-width:1.3"/><path class="pk" d="M3,-3.7 L5,-3.8 M7.5,-3.9 L12,-3.9" style="stroke-width:1.4"/><path class="pd" d="M12,-3.9 L29.5,-4 Q33.5,-3.8 33.5,0 Q33.5,3.8 29.5,3.9 L8,3.5" style="stroke-width:1.1"/><path class="p" style="fill:none;stroke-width:0.8" d="M15,-3.8 Q18.2,0 15.8,3.8"/><path class="pk" style="fill:none;stroke-width:1.25" d="M18.5,-3.8 Q21.7,0 19.3,3.8"/><path class="pk" style="fill:none;stroke-width:1.25" d="M22,-3.8 Q25.2,0 22.8,3.8"/><path class="pk" style="fill:none;stroke-width:1.25" d="M25.5,-3.8 Q28.7,0 26.3,3.8"/><path class="pk" style="fill:none;stroke-width:1.25" d="M29,-3.8 Q32.2,0 29.8,3.8"/></g>
<g transform="translate(1206.8,118.1) rotate(-30)"><path class="pw" d="M3,-2.7 L32,-1.7 L37.5,-0.2 L32,1.5 L3,2.7 Z"/><path class="pd" d="M4.5,-2.5 Q6.5,0 5.1,2.5" style="stroke-width:1.2"/><path class="pd" d="M6.8,-2.5 Q8.8,0 7.4,2.5" style="stroke-width:1.2"/><path class="pd" d="M9.1,-2.5 Q11.1,0 9.7,2.5" style="stroke-width:1.2"/><path class="pd" d="M11.4,-2.5 Q13.4,0 12,2.5" style="stroke-width:1.2"/><path class="pd" d="M13.7,-2.5 Q15.7,0 14.3,2.5" style="stroke-width:1.2"/><path class="pd" d="M16,-2.5 Q18,0 16.6,2.5" style="stroke-width:1.2"/><path class="pd" d="M18.3,-2.5 Q20.3,0 18.9,2.5" style="stroke-width:1.2"/><path class="pd" d="M20.6,-2.5 Q22.6,0 21.2,2.5" style="stroke-width:1.2"/><path class="pd" d="M22.9,-2.5 Q24.9,0 23.5,2.5" style="stroke-width:1.2"/><path class="pd" d="M25.2,-2.5 Q27.2,0 25.8,2.5" style="stroke-width:1.2"/><path class="pd" d="M27.5,-2.5 Q29.5,0 28.1,2.5" style="stroke-width:1.2"/><path class="pd" d="M29.8,-2.5 Q31.8,0 30.4,2.5" style="stroke-width:1.2"/><path class="pd" d="M32.1,-2.5 Q34.1,0 32.7,2.5" style="stroke-width:1.2"/><path class="pd" d="M34.4,-2.5 Q36.4,0 35,2.5" style="stroke-width:1.2"/><ellipse class="pw" cx="0.8" cy="0" rx="3.6" ry="6"/><ellipse class="pw" cx="-1" cy="0" rx="3.6" ry="6"/><ellipse class="pd" cx="-1.5" cy="0.3" rx="2" ry="3" style="stroke-width:1.4"/></g>
<g transform="translate(1256.1,182.6) rotate(-30)"><path class="pw" d="M3,-2.7 L32,-1.7 L37.5,-0.2 L32,1.5 L3,2.7 Z"/><path class="pd" d="M4.5,-2.5 Q6.5,0 5.1,2.5" style="stroke-width:1.2"/><path class="pd" d="M6.8,-2.5 Q8.8,0 7.4,2.5" style="stroke-width:1.2"/><path class="pd" d="M9.1,-2.5 Q11.1,0 9.7,2.5" style="stroke-width:1.2"/><path class="pd" d="M11.4,-2.5 Q13.4,0 12,2.5" style="stroke-width:1.2"/><path class="pd" d="M13.7,-2.5 Q15.7,0 14.3,2.5" style="stroke-width:1.2"/><path class="pd" d="M16,-2.5 Q18,0 16.6,2.5" style="stroke-width:1.2"/><path class="pd" d="M18.3,-2.5 Q20.3,0 18.9,2.5" style="stroke-width:1.2"/><path class="pd" d="M20.6,-2.5 Q22.6,0 21.2,2.5" style="stroke-width:1.2"/><path class="pd" d="M22.9,-2.5 Q24.9,0 23.5,2.5" style="stroke-width:1.2"/><path class="pd" d="M25.2,-2.5 Q27.2,0 25.8,2.5" style="stroke-width:1.2"/><path class="pd" d="M27.5,-2.5 Q29.5,0 28.1,2.5" style="stroke-width:1.2"/><path class="pd" d="M29.8,-2.5 Q31.8,0 30.4,2.5" style="stroke-width:1.2"/><path class="pd" d="M32.1,-2.5 Q34.1,0 32.7,2.5" style="stroke-width:1.2"/><path class="pd" d="M34.4,-2.5 Q36.4,0 35,2.5" style="stroke-width:1.2"/><ellipse class="pw" cx="0.8" cy="0" rx="3.6" ry="6"/><ellipse class="pw" cx="-1" cy="0" rx="3.6" ry="6"/><ellipse class="pd" cx="-1.5" cy="0.3" rx="2" ry="3" style="stroke-width:1.4"/></g>
<rect class="pw" x="1283.4" y="183" width="5.2" height="19" rx="2.5" style="stroke:#222;stroke-width:1.1"/>
<path class="pd" d="M1283.7,186.8 Q1286,185.4 1288.3,186.8" style="stroke-width:1.1"/>
<path class="pd" d="M1283.7,189.5 Q1286,188.1 1288.3,189.5" style="stroke-width:1.1"/>
<path class="pd" d="M1283.7,192.2 Q1286,190.8 1288.3,192.2" style="stroke-width:1.1"/>
<path class="pd" d="M1283.7,194.9 Q1286,193.5 1288.3,194.9" style="stroke-width:1.1"/>
<path class="pd" d="M1283.7,197.6 Q1286,196.2 1288.3,197.6" style="stroke-width:1.1"/>
<path class="pd" d="M1283.7,200.3 Q1286,198.9 1288.3,200.3" style="stroke-width:1.1"/>
<path class="pd" d="M1284.2,184.2 L1287.8,186 M1287.8,184.2 L1284.2,186"/>
<rect class="pw" x="1302.6" y="193.8" width="5.2" height="19.2" rx="2.5" style="stroke:#222;stroke-width:1.1"/>
<path class="pd" d="M1302.9,197.6 Q1305.2,196.2 1307.5,197.6" style="stroke-width:1.1"/>
<path class="pd" d="M1302.9,200.3 Q1305.2,198.9 1307.5,200.3" style="stroke-width:1.1"/>
<path class="pd" d="M1302.9,203 Q1305.2,201.6 1307.5,203" style="stroke-width:1.1"/>
<path class="pd" d="M1302.9,205.7 Q1305.2,204.3 1307.5,205.7" style="stroke-width:1.1"/>
<path class="pd" d="M1302.9,208.4 Q1305.2,207 1307.5,208.4" style="stroke-width:1.1"/>
<path class="pd" d="M1302.9,211.1 Q1305.2,209.7 1307.5,211.1" style="stroke-width:1.1"/>
<path class="pd" d="M1303.4,195 L1307,196.8 M1307,195 L1303.4,196.8"/>
<path class="pw" d="M427.4,656.3 L699.3,812.8 L699.3,828.5 L482.2,954 L210.2,797.4 L210.2,781 Z" />
<path class="p" d="M210.2,781 L482.2,938.5 L699.3,812.8" />
<path class="sh1" d="M416.99,665.26 Q427.4,659.3 437.79,665.3 L684.27,807.5 Q696.4,814.5 684.28,821.51 L501.25,927.29 Q482.2,938.3 463.16,927.28 L224.62,789.31 Q212.5,782.3 224.65,775.35 Z"/>
<path class="sh2" d="M416.97,666.74 Q427.4,660.8 437.8,666.78 L682.46,807.52 Q694.6,814.5 682.47,821.49 L501.27,925.82 Q482.2,936.8 463.14,925.81 L226.33,789.29 Q214.2,782.3 226.36,775.37 Z"/>
<path class="sh3" d="M221.5,788.8 L463.1,927.8 Q482.2,938.8 501.3,927.8 L684,822.5"/>
<path class="sh3" d="M222.5,775 Q216.5,782.3 221.5,788.8"/>
<path class="sh3" d="M688,807.5 Q694,814.5 684,822.5"/>
<path class="l" d="M222,782.5 L248.3,782.5"/>
<path class="l" d="M662,810.3 L688,812.8"/>
<path class="dd" d="M455,647 L455,752"/>
<path class="pw" d="M423.2,768.7 L455,751.4 L486.6,768.9 L486.6,791.8 L455,809.1 L423.2,791.8 Z" />
<path class="p" d="M423.2,768.7 L455,786.2 L486.6,768.9" />
<path class="p" d="M455,786.2 L455,809.1"/>
<ellipse class="pw" cx="455" cy="771" rx="21.6" ry="11"/>
<path class="pd" d="M434,773 A21.6,11 0 0,0 476,773"/>
<ellipse class="t" cx="455" cy="770" rx="19.5" ry="9.5"/>
<path class="pw" d="M441.5,748 L441.5,775 A13.5,6.5 0 0,0 468.5,775 L468.5,748 Z"/>
<path class="p" d="M450,759 L450,779"/>
<path class="p" d="M441.5,773 L450,779" />
<ellipse class="p" cx="465" cy="768" rx="1.2" ry="1.8" transform="rotate(20 465 768)"/>
<path class="pd" d="M441.5,752 A13.5,6.5 0 0,0 468.5,752"/>
<path class="pd" d="M441.5,754.3 A13.5,6.5 0 0,0 468.5,754.3"/>
<path class="pd" d="M441.5,756.6 A13.5,6.5 0 0,0 468.5,756.6"/>
<path class="pd" d="M441.5,758.9 A13.5,6.5 0 0,0 468.5,758.9"/>
<path class="pd" d="M441.5,761.2 A13.5,6.5 0 0,0 468.5,761.2"/>
<ellipse class="pw" cx="455" cy="747.5" rx="13.5" ry="8"/>
<ellipse class="t" cx="455" cy="747.5" rx="11.5" ry="6.5"/>
<ellipse class="pd" cx="455" cy="748" rx="6" ry="3.5"/>
<ellipse class="t" cx="455" cy="748.5" rx="2.5" ry="1.5"/>
<path class="p" d="M412.7,805 L423.9,798.4 L442.3,809.6 L431,816.2 Z" />
<path class="pk" d="M420,804.6 L425.5,801.4 L436,807.4 L430.5,810.6 Z" />
<path class="wl" d="M424,804.5 L427,803 L432,805.5" />
<path class="pd" d="M487.6,778 L489.6,780"/>
</svg></body></html>
